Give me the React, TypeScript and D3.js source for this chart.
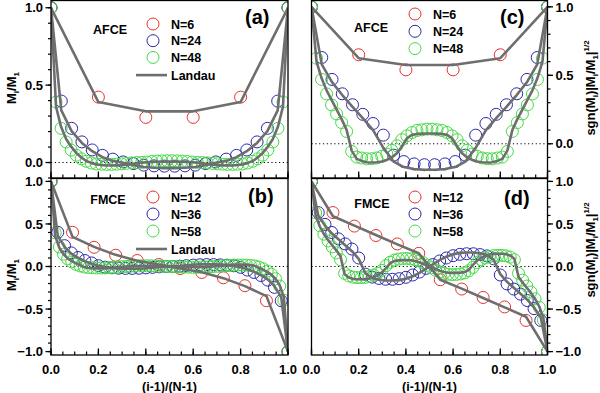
import React from "react";
import * as d3 from "d3";

// values are read on the sgn(M)|M/M1|^(1/2) scale (right-hand panels);
// the left-hand panels show the same values as M/M1
const afceN6 = [1, 0.65, 0.54, 0.54, 0.65, 1];
const afceLandau6 = [1, 0.625, 0.575, 0.575, 0.625, 1];
const afceN24 = [
  1, 0.63, 0.47, 0.365, 0.285, 0.215, 0.148, 0.063, -0.083, -0.13, -0.147, -0.153,
  -0.153, -0.147, -0.13, -0.083, 0.063, 0.148, 0.215, 0.285, 0.365, 0.47, 0.63, 1,
];
const afceLandau24 = [
  1, 0.58, 0.45, 0.356, 0.27, 0.187, 0.1, -0.03, -0.13, -0.17, -0.185, -0.19,
  -0.19, -0.185, -0.17, -0.13, -0.03, 0.1, 0.187, 0.27, 0.356, 0.45, 0.58, 1,
];
const afceN48 = [
  1, 0.625, 0.47, 0.364, 0.284, 0.218, 0.155, 0.09, -0.056, -0.097, -0.104, -0.11,
  -0.109, -0.104, -0.092, -0.075, -0.048, -0.015, 0.03, 0.058, 0.082, 0.097, 0.102, 0.107,
  0.107, 0.102, 0.097, 0.082, 0.058, 0.03, -0.015, -0.048, -0.075, -0.092, -0.104, -0.109,
  -0.11, -0.104, -0.097, -0.056, 0.09, 0.155, 0.218, 0.284, 0.364, 0.47, 0.625, 1,
];
const afceLandau48 = [
  1, 0.6, 0.48, 0.39, 0.32, 0.25, 0.18, 0.1, -0.05, -0.11, -0.125, -0.135,
  -0.137, -0.135, -0.13, -0.118, -0.1, -0.07, -0.02, 0.04, 0.065, 0.072, 0.074, 0.075,
  0.075, 0.074, 0.072, 0.065, 0.04, -0.02, -0.07, -0.1, -0.118, -0.13, -0.135, -0.137,
  -0.135, -0.125, -0.11, -0.05, 0.1, 0.18, 0.25, 0.32, 0.39, 0.48, 0.6, 1,
];

const fmceN12 = [1, 0.634, 0.475, 0.364, 0.265, 0.155, -0.155, -0.265, -0.364, -0.475, -0.634, -1];
const fmceLandau12 = [1, 0.59, 0.48, 0.37, 0.26, 0.155, -0.155, -0.26, -0.37, -0.48, -0.59, -1];
const fmceN36 = [
  1, 0.634, 0.495, 0.4, 0.325, 0.265, 0.205, 0.1, -0.09, -0.125, -0.14, -0.15,
  -0.15, -0.143, -0.127, -0.1, -0.065, -0.022, 0.022, 0.065, 0.1, 0.127, 0.143, 0.15,
  0.15, 0.14, 0.125, 0.09, -0.1, -0.205, -0.265, -0.325, -0.4, -0.495, -0.634, -1,
];
const fmceLandau36 = [
  1, 0.6, 0.48, 0.39, 0.32, 0.25, 0.18, 0.09, -0.08, -0.135, -0.155, -0.165,
  -0.165, -0.16, -0.145, -0.115, -0.075, -0.025, 0.025, 0.075, 0.115, 0.145, 0.16, 0.165,
  0.165, 0.155, 0.135, 0.08, -0.09, -0.18, -0.25, -0.32, -0.39, -0.48, -0.6, -1,
];
const fmceN58 = [
  1, 0.63, 0.48, 0.38, 0.3, 0.23, 0.16, 0.08, -0.08, -0.11, -0.125, -0.13, -0.13, -0.128,
  -0.115, -0.1, -0.08, -0.045, 0.01, 0.05, 0.075, 0.087, 0.093, 0.095, 0.09, 0.08, 0.065,
  0.045, 0.015, -0.015, -0.045, -0.065, -0.08, -0.09, -0.095, -0.093, -0.087, -0.075, -0.05,
  -0.01, 0.045, 0.08, 0.1, 0.115, 0.128, 0.13, 0.13, 0.125, 0.11, 0.08, -0.08, -0.16, -0.23,
  -0.3, -0.38, -0.48, -0.63, -1,
];
const fmceLandau58 = [
  1, 0.6, 0.47, 0.38, 0.31, 0.25, 0.19, 0.12, -0.09, -0.13, -0.145, -0.15, -0.15, -0.148,
  -0.14, -0.125, -0.1, -0.07, -0.02, 0.04, 0.065, 0.072, 0.075, 0.075, 0.073, 0.065, 0.05,
  0.03, 0.01, -0.01, -0.03, -0.05, -0.065, -0.073, -0.075, -0.075, -0.072, -0.065, -0.04,
  0.02, 0.07, 0.1, 0.125, 0.14, 0.148, 0.15, 0.15, 0.145, 0.13, 0.09, -0.12, -0.19, -0.25,
  -0.31, -0.38, -0.47, -0.6, -1,
];

const xTicks = [0, 0.2, 0.4, 0.6, 0.8, 1.0];
const yTicksTop = [0, 0.5, 1.0];
const yTicksBottom = [-1.0, -0.5, 0, 0.5, 1.0];
const afceLabels = ["N=6", "N=24", "N=48"];
const fmceLabels = ["N=12", "N=36", "N=58"];

const RED = "#e4332f";
const BLUE = "#2a2aa6";
const GREEN = "#46d846";
const GRAY = "#6e6e6e";
const FONT = "'Liberation Sans', Arial, Helvetica, sans-serif";

const asM = (s: number) => Math.sign(s) * s * s;
const same = (s: number) => s;
const pts = (vals: number[]) => vals.map((v, i) => [i / (vals.length - 1), v] as [number, number]);

const xLeft = d3.scaleLinear().domain([0, 1]).range([51, 288]);
const xRight = d3.scaleLinear().domain([0, 1]).range([311.5, 547.5]);
const yA = d3.scaleLinear().domain([-0.1, 1.05]).range([178, 0]);
const yC = d3.scaleLinear().domain([-0.25, 1.05]).range([178, 0]);
const yB = d3.scaleLinear().domain([-1.04, 1.04]).range([355, 178]);

const Panel = ({ id, x, y, circles, lines, fn }: any) => {
  const [x0, x1] = x.range();
  const [yb, yt] = y.range();
  const line = d3
    .line<[number, number]>()
    .x((d) => x(d[0]))
    .y((d) => y(fn(d[1])));
  return (
    <g>
      <clipPath id={id}>
        <rect x={x0} y={yt} width={x1 - x0} height={yb - yt} />
      </clipPath>
      <line x1={x0} x2={x1} y1={y(0)} y2={y(0)} stroke="#000" strokeWidth={1} strokeDasharray="1.2,2.6" />
      <g clipPath={`url(#${id})`}>
        {circles.map((s: any, k: number) =>
          pts(s.values).map(([a, b], i) => (
            <circle key={`${k}-${i}`} cx={x(a)} cy={y(fn(b))} r={6} fill="none" stroke={s.color} strokeWidth={1} />
          ))
        )}
        {lines.map((v: number[], k: number) => (
          <path key={k} d={line(pts(v)) || ""} fill="none" stroke={GRAY} strokeWidth={2.6} strokeLinejoin="round" />
        ))}
      </g>
      <rect x={x0} y={yt + 0.5} width={x1 - x0} height={yb - yt - 0.5} fill="none" stroke="#000" strokeWidth={1.3} />
    </g>
  );
};

const YAxis = ({ x, y, side, ticks }: any) => {
  const [x0, x1] = x.range();
  const ax = side === "left" ? x0 : x1;
  const dir = side === "left" ? -1 : 1;
  const [d0, d1] = y.domain();
  const minor = d3.range(-10, 11).map((k) => k / 10).filter((v) => v >= d0 && v <= d1);
  return (
    <g>
      {minor.map((v) => (
        <line key={"m" + v} x1={ax} x2={ax + dir * 3} y1={y(v)} y2={y(v)} stroke="#000" strokeWidth={1.2} />
      ))}
      {ticks.map((v: number) => (
        <g key={v}>
          <line x1={ax} x2={ax + dir * 5.5} y1={y(v)} y2={y(v)} stroke="#000" strokeWidth={1.3} />
          <text
            x={ax + dir * 8}
            y={y(v)}
            dy="0.36em"
            textAnchor={side === "left" ? "end" : "start"}
            fontSize={13}
            fontWeight="bold"
          >
            {d3.format(".1f")(v)}
          </text>
        </g>
      ))}
    </g>
  );
};

const XAxis = ({ x, yPos, labels }: any) => {
  const minor = d3.range(0, 21).map((k) => k / 20);
  return (
    <g>
      {minor.map((v) => (
        <line key={"m" + v} x1={x(v)} x2={x(v)} y1={yPos} y2={yPos - 3.5} stroke="#000" strokeWidth={1.2} />
      ))}
      {xTicks.map((v) => (
        <g key={v}>
          <line x1={x(v)} x2={x(v)} y1={yPos} y2={yPos - 6.5} stroke="#000" strokeWidth={1.3} />
          {labels && (
            <text x={x(v)} y={yPos + 19} textAnchor="middle" fontSize={13} fontWeight="bold">
              {d3.format(".1f")(v)}
            </text>
          )}
        </g>
      ))}
    </g>
  );
};

const Legend = ({ cx, cy, step, labels, landau, name, nameX, nameY, tag, tagX, tagY }: any) => {
  const colors = [RED, BLUE, GREEN];
  return (
    <g fontWeight="bold">
      <text x={nameX} y={nameY} textAnchor="middle" fontSize={12.5}>
        {name}
      </text>
      {labels.map((l: string, i: number) => (
        <g key={l}>
          <circle cx={cx} cy={cy + i * step} r={6} fill="none" stroke={colors[i]} strokeWidth={1} />
          <text x={cx + 18} y={cy + i * step + 4.5} fontSize={12.5}>
            {l}
          </text>
        </g>
      ))}
      {landau && (
        <g>
          <line x1={cx - 17} x2={cx + 14} y1={cy + 3 * step + 1} y2={cy + 3 * step + 1} stroke={GRAY} strokeWidth={2.6} />
          <text x={cx + 18} y={cy + 3 * step + 5.5} fontSize={12.5}>
            Landau
          </text>
        </g>
      )}
      <text x={tagX} y={tagY} fontSize={20}>
        {tag}
      </text>
    </g>
  );
};

const LeftTitle = ({ cx, cy }: any) => (
  <text transform={`translate(${cx},${cy}) rotate(-90)`} textAnchor="middle" fontSize={13} fontWeight="bold">
    M<tspan dy="3" fontSize={8}>i</tspan>
    <tspan dy="-3">/M</tspan>
    <tspan dy="3" fontSize={8}>1</tspan>
  </text>
);

const RightTitle = ({ cx, cy }: any) => (
  <text transform={`translate(${cx},${cy}) rotate(-90)`} textAnchor="middle" fontSize={13} fontWeight="bold">
    sgn(M<tspan dy="3" fontSize={8}>i</tspan>
    <tspan dy="-3">)|M</tspan>
    <tspan dy="3" fontSize={8}>i</tspan>
    <tspan dy="-3">/M</tspan>
    <tspan dy="3" fontSize={8}>1</tspan>
    <tspan dy="-3">|</tspan>
    <tspan dy="-6" fontSize={8}>1/2</tspan>
  </text>
);

export default function App() {
  const afceCircles = [
    { values: afceN6, color: RED },
    { values: afceN24, color: BLUE },
    { values: afceN48, color: GREEN },
  ];
  const afceLines = [afceLandau6, afceLandau24, afceLandau48];
  const fmceCircles = [
    { values: fmceN12, color: RED },
    { values: fmceN36, color: BLUE },
    { values: fmceN58, color: GREEN },
  ];
  const fmceLines = [fmceLandau12, fmceLandau36, fmceLandau58];

  return (
    <div style={{ position: "absolute", left: 0, top: 0 }}>
      <svg width={600} height={393} style={{ display: "block", background: "#fff" }} fontFamily={FONT}>
        {/* (a) */}
        <Panel id="ca" x={xLeft} y={yA} circles={afceCircles} lines={afceLines} fn={asM} />
        <YAxis x={xLeft} y={yA} side="left" ticks={yTicksTop} />
        <XAxis x={xLeft} yPos={178} labels={false} />
        <Legend cx={153} cy={24} step={16.7} labels={afceLabels} landau name="AFCE" nameX={110} nameY={34} tag="(a)" tagX={245} tagY={24} />
        <LeftTitle cx={16} cy={88} />

        {/* (b) */}
        <Panel id="cb" x={xLeft} y={yB} circles={fmceCircles} lines={fmceLines} fn={asM} />
        <YAxis x={xLeft} y={yB} side="left" ticks={yTicksBottom} />
        <XAxis x={xLeft} yPos={355} labels />
        <Legend cx={153} cy={197} step={17} labels={fmceLabels} landau name="FMCE" nameX={108} nameY={204} tag="(b)" tagX={248} tagY={203} />
        <LeftTitle cx={16} cy={275} />

        {/* (c) */}
        <Panel id="cc" x={xRight} y={yC} circles={afceCircles} lines={afceLines} fn={same} />
        <YAxis x={xRight} y={yC} side="right" ticks={yTicksTop} />
        <XAxis x={xRight} yPos={178} labels={false} />
        <Legend cx={415} cy={14} step={17.3} labels={afceLabels} landau={false} name="AFCE" nameX={371} nameY={32} tag="(c)" tagX={500} tagY={24} />
        <RightTitle cx={595} cy={88} />

        {/* (d) */}
        <Panel id="cd" x={xRight} y={yB} circles={fmceCircles} lines={fmceLines} fn={same} />
        <YAxis x={xRight} y={yB} side="right" ticks={yTicksBottom} />
        <XAxis x={xRight} yPos={355} labels />
        <Legend cx={415} cy={197} step={17} labels={fmceLabels} landau={false} name="FMCE" nameX={372} nameY={208} tag="(d)" tagX={504} tagY={205} />
        <RightTitle cx={595} cy={250} />

        <text x={(51 + 288) / 2} y={390.5} textAnchor="middle" fontSize={12.5} fontWeight="bold">
          (i-1)/(N-1)
        </text>
        <text x={(311.5 + 547.5) / 2} y={390.5} textAnchor="middle" fontSize={12.5} fontWeight="bold">
          (i-1)/(N-1)
        </text>
      </svg>
    </div>
  );
}
